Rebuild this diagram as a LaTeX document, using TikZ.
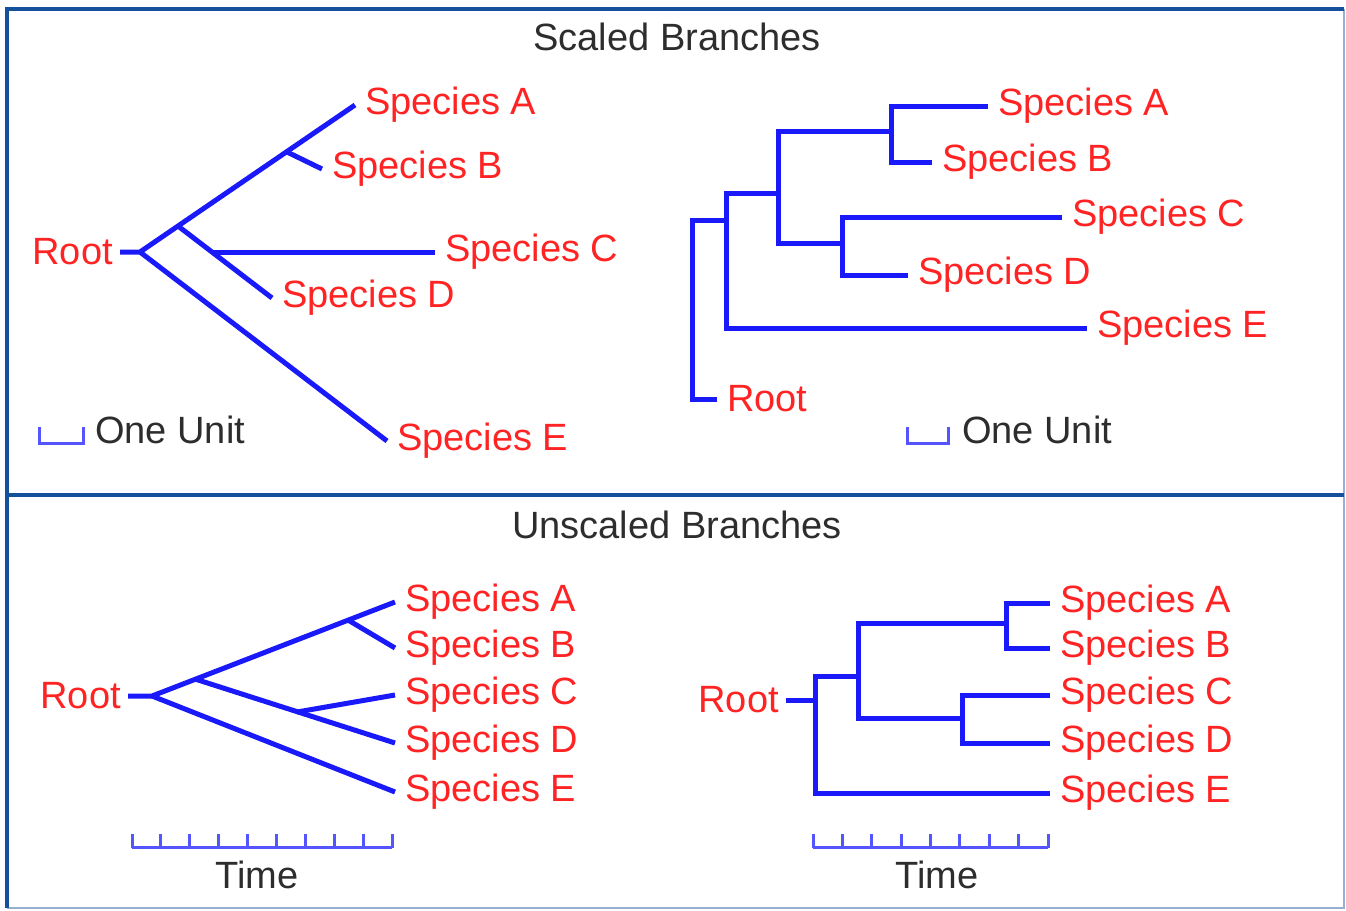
\documentclass[tikz,border=0pt]{standalone}
\usepackage{fontspec}
\setmainfont{Liberation Sans}
\definecolor{treeblue}{RGB}{25,25,250}
\definecolor{labelred}{RGB}{255,35,35}
\definecolor{barblue}{RGB}{85,85,255}
\definecolor{framedark}{RGB}{20,80,155}
\definecolor{framelight}{RGB}{150,175,210}
\definecolor{headgray}{RGB}{45,45,45}
\tikzset{
 branch/.style={draw=treeblue,line width=5pt},
 species/.style={text=labelred,anchor=west,inner xsep=10pt,inner ysep=0pt,font=\fontsize{38}{40}\selectfont},
 rootlabel/.style={species,anchor=east,inner xsep=7pt},
 heading/.style={text=headgray,font=\fontsize{38}{40}\selectfont},
 unitbar/.style={draw=barblue,line width=3pt},
 unitlabel/.style={heading,anchor=west,inner sep=0pt},
 panel/.style={draw=framedark,line width=4pt},
 panellight/.style={draw=framelight,line width=2.5pt}
}
\begin{document}
\begin{tikzpicture}[x=1pt,y=-1pt]
\path[use as bounding box] (0,0) rectangle (1346,910);
\draw[panellight] (1344,9) -- (1344,908) -- (7,908);
\draw[panel] (7,908) -- (7,9) -- (1344,9);
\draw[panel] (7,495) -- (1344,495);
\node[heading] (hScaled) at (677,37) {Scaled Branches};
\node[heading] (hUnscaled) at (677,525) {Unscaled Branches};
\node[rootlabel] (sRootA) at (120,252) {Root};
\node[species] (sAa) at (355,105) {Species A};
\node[species] (sBa) at (322,169) {Species B};
\node[species] (sCa) at (435,252) {Species C};
\node[species] (sDa) at (272,298) {Species D};
\node[species] (sEa) at (387,441) {Species E};
\coordinate (sRa) at (140,252);
\coordinate (sN1a) at (178,226);
\coordinate (sN2a) at (287,152);
\coordinate (sNCa) at (213,252);
\draw[branch] (sRootA.east) -- (sRa) -- (sAa.west);
\draw[branch] (sN2a) -- (sBa.west);
\draw[branch] (sN1a) -- (sDa.west);
\draw[branch] (sNCa) -- (sCa.west);
\draw[branch] (sRa) -- (sEa.west);
\draw[unitbar] (39,427) -- (39,443) -- (83,443) -- (83,427);
\node[unitlabel] (sUnitA) at (95,430) {One Unit};
\node[species] (sAb) at (988,106) {Species A};
\node[species] (sBb) at (932,162) {Species B};
\node[species] (sCb) at (1062,217) {Species C};
\node[species] (sDb) at (908,275) {Species D};
\node[species] (sEb) at (1087,328) {Species E};
\node[species] (sRootB) at (717,399) {Root};
\coordinate (sABb) at (891,131);
\coordinate (sCDb) at (842,243);
\coordinate (sACb) at (778,193);
\coordinate (sAEb) at (726,220);
\coordinate (sRb) at (692,399);
\draw[branch] (sAb.west) -| (sABb) |- (sBb.west);
\draw[branch] (sCb.west) -| (sCDb) |- (sDb.west);
\draw[branch] (sABb) -| (sACb) |- (sCDb);
\draw[branch] (sACb) -| (sAEb) |- (sEb.west);
\draw[branch] (sAEb) -| (sRb) -- (sRootB.west);
\draw[unitbar] (907,427) -- (907,443) -- (948,443) -- (948,427);
\node[unitlabel] (sUnitB) at (962,430) {One Unit};
\node[rootlabel] (uRootA) at (128,696) {Root};
\node[species] (uAa) at (395,602) {Species A};
\node[species] (uBa) at (395,648) {Species B};
\node[species] (uCa) at (395,695) {Species C};
\node[species] (uDa) at (395,743) {Species D};
\node[species] (uEa) at (395,792) {Species E};
\coordinate (uRa) at (152,696);
\coordinate (uN1a) at (195,679);
\coordinate (uN2a) at (348,620);
\coordinate (uN3a) at (297,712);
\draw[branch] (uRootA.east) -- (uRa) -- (uAa.west);
\draw[branch] (uN2a) -- (uBa.west);
\draw[branch] (uN1a) -- (uDa.west);
\draw[branch] (uN3a) -- (uCa.west);
\draw[branch] (uRa) -- (uEa.west);
\draw[unitbar] (132,847) -- (392,847);
\foreach \i in {0,...,9} \draw[unitbar] (132+28.89*\i,848) -- ++(0,-14);
\node[heading] (uTimeA) at (257,875) {Time};
\node[rootlabel] (uRootB) at (786,700) {Root};
\node[species] (uAb) at (1050,603) {Species A};
\node[species] (uBb) at (1050,648) {Species B};
\node[species] (uCb) at (1050,695) {Species C};
\node[species] (uDb) at (1050,743) {Species D};
\node[species] (uEb) at (1050,793) {Species E};
\coordinate (uABb) at (1006,623);
\coordinate (uCDb) at (962,718);
\coordinate (uACb) at (858,676);
\coordinate (uRb) at (815,700);
\draw[branch] (uAb.west) -| (uABb) |- (uBb.west);
\draw[branch] (uCb.west) -| (uCDb) |- (uDb.west);
\draw[branch] (uABb) -| (uACb) |- (uCDb);
\draw[branch] (uACb) -| (uRb) |- (uEb.west);
\draw[branch] (uRootB.east) -- (uRb);
\draw[unitbar] (813,847) -- (1048,847);
\foreach \i in {0,...,8} \draw[unitbar] (813+29.375*\i,848) -- ++(0,-14);
\node[heading] (uTimeB) at (937,875) {Time};
\end{tikzpicture}
\end{document}
